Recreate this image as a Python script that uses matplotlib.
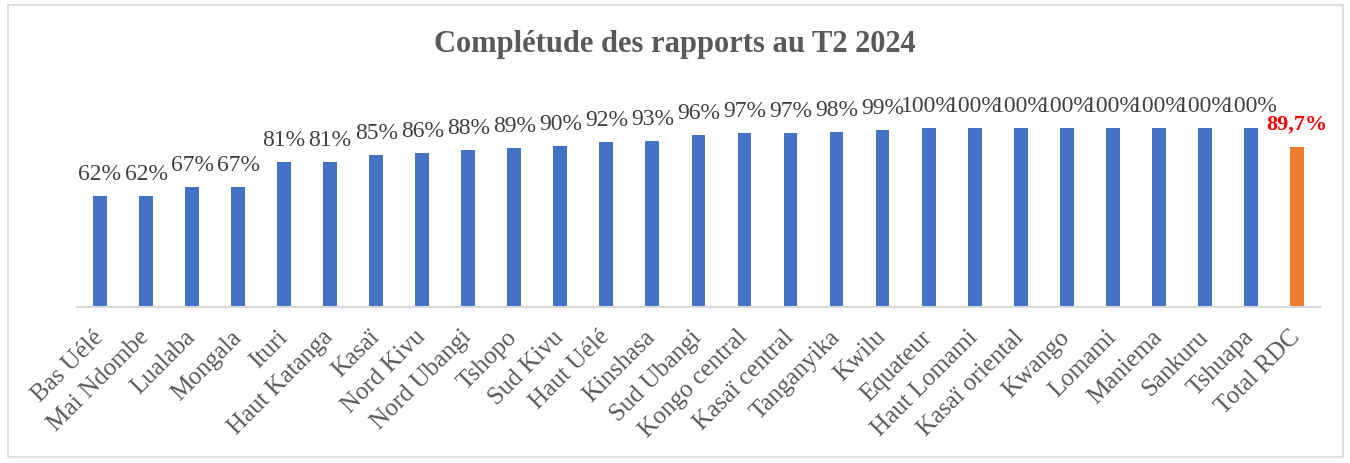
import matplotlib.pyplot as plt
from matplotlib.patches import Rectangle
from matplotlib.transforms import ScaledTranslation

provinces = ['Bas Uélé', 'Mai Ndombe', 'Lualaba', 'Mongala', 'Ituri', 'Haut Katanga',
             'Kasaï', 'Nord Kivu', 'Nord Ubangi', 'Tshopo', 'Sud Kivu', 'Haut Uélé',
             'Kinshasa', 'Sud Ubangi', 'Kongo central', 'Kasaï central', 'Tanganyika',
             'Kwilu', 'Equateur', 'Haut Lomami', 'Kasaï oriental', 'Kwango', 'Lomami',
             'Maniema', 'Sankuru', 'Tshuapa', 'Total RDC']
completude = [62, 62, 67, 67, 81, 81, 85, 86, 88, 89, 90, 92, 93, 96, 97, 97, 98,
              99, 100, 100, 100, 100, 100, 100, 100, 100, 89.7]

serif = ['Liberation Serif', 'DejaVu Serif']

fig = plt.figure(figsize=(13.5, 4.64), dpi=100)
ax = fig.add_axes([0.057, 0.336, 0.9207, 0.463])

x = list(range(len(provinces)))
colors = ['#4472C4'] * (len(provinces) - 1) + ['#ED7D31']
ax.bar(x, [v / 100 for v in completude], width=0.3, color=colors)

# labels au-dessus des barres
for i, v in enumerate(completude):
    if provinces[i] == 'Total RDC':
        ax.text(i, v / 100 + 0.1, '89,7%', ha='center', va='baseline', fontsize=16,
                fontweight='bold', color='#FF0000', family=serif)
    else:
        ax.text(i, v / 100 + 0.095, f'{v:.0f}%', ha='center', va='baseline', fontsize=17,
                color='#404040', family=serif)

ax.set_xlim(-0.5, len(provinces) - 0.5)
ax.set_ylim(0, 1.2)
ax.set_yticks([])
for s in ['top', 'right', 'left']:
    ax.spines[s].set_visible(False)
ax.spines['bottom'].set_color('#D9D9D9')
ax.spines['bottom'].set_linewidth(1.5)

ax.set_xticks(x)
ax.set_xticklabels(provinces, rotation=45, ha='right', rotation_mode='anchor',
                   fontsize=18, color='#595959', family=serif)
ax.tick_params(axis='x', length=0, pad=13)
# petit décalage à gauche des étiquettes
shift = ScaledTranslation(-8 / 100, 0, fig.dpi_scale_trans)
for lbl in ax.get_xticklabels():
    lbl.set_transform(lbl.get_transform() + shift)

fig.text(0.5, 0.905, 'Complétude des rapports au T2 2024', ha='center', va='center',
         fontsize=22, fontweight='bold', color='#595959', family=serif)

# cadre du graphique
fig.patches.append(Rectangle((8 / 1350, 6 / 464), 1335 / 1350, 452 / 464,
                             transform=fig.transFigure, fill=False,
                             edgecolor='#D9D9D9', linewidth=1.2))

fig.savefig('out.png', dpi=100)
